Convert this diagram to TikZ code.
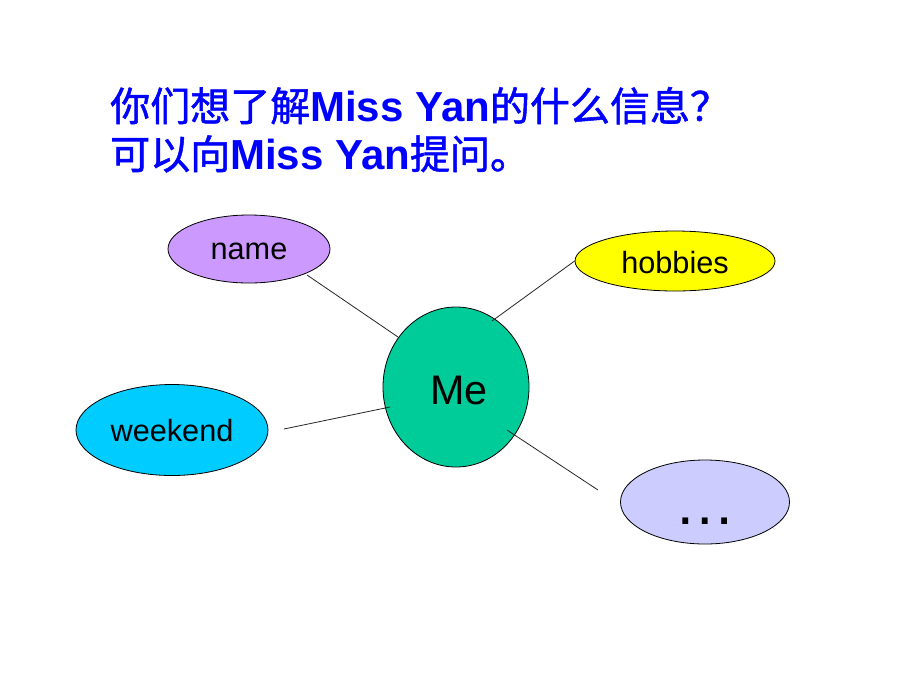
\documentclass[tikz,border=0pt]{standalone}
\usepackage{fontspec}
\setmainfont{Liberation Sans}
\newfontfamily\cjk[FakeBold=1.3]{Noto Sans CJK SC}
\newfontfamily\latb{Liberation Sans Bold}
\usetikzlibrary{shapes.geometric}
\definecolor{namec}{HTML}{CC99FF}
\definecolor{hobc}{HTML}{FFFF00}
\definecolor{mec}{HTML}{00CC99}
\definecolor{weekc}{HTML}{00CCFF}
\definecolor{dotc}{HTML}{CCCCFF}
\definecolor{titlec}{HTML}{0000FF}
\tikzset{
  bubble/.style={ellipse, draw=black, line width=0.6pt, inner sep=0pt},
  label/.style={font=\fontsize{23}{26}\selectfont, text=black},
  link/.style={draw=black!85, line width=0.6pt},
  title/.style={anchor=base west, inner sep=0pt, text=titlec, font=\fontsize{30}{36}\selectfont}
}
\begin{document}
\begin{tikzpicture}[x=0.75pt,y=-0.75pt]
\useasboundingbox (0,0) rectangle (920,690);
\fill[white] (0,0) rectangle (920,690);
% title
\node[title] (t1) at (110,121) {{\cjk 你们想了解}{\latb\fontsize{31.5}{36}\selectfont Miss Yan}{\cjk 的什么信息？}};
\node[title] (t2) at (110,169) {{\cjk 可以向}{\latb\fontsize{31.5}{36}\selectfont Miss Yan}{\cjk 提问。}};
% bubbles
\node[bubble, fill=namec, minimum width=121.5pt, minimum height=51pt] (name) at (249,249) {};
\node[label] at (249,251) {name};
\node[bubble, fill=hobc, minimum width=150pt, minimum height=45pt] (hob) at (675,261) {};
\node[label] at (675,263) {hobbies};
\node[bubble, fill=mec, minimum width=109.5pt, minimum height=120pt] (me) at (456,387) {};
\node[font=\fontsize{31}{34}\selectfont] at (459,390) {Me};
\node[bubble, fill=weekc, minimum width=144pt, minimum height=68.25pt] (week) at (172,430) {};
\node[label] at (172,431) {weekend};
\node[bubble, fill=dotc, minimum width=126.75pt, minimum height=63pt] (dots) at (705,502) {};
\node[anchor=base, inner sep=0pt, font=\fontsize{46}{50}\selectfont] (dt) at (705,524) {…};
% connectors
\coordinate (n0) at (307,275);
\coordinate (n1) at (398,337);
\coordinate (h1) at (492,321);
\coordinate (w0) at (284,429);
\coordinate (w1) at (390,407);
\coordinate (d0) at (507,430);
\coordinate (d1) at (598,490);
\draw[link] (n0) -- (n1);
\draw[link] (hob.west) -- (h1);
\draw[link] (w0) -- (w1);
\draw[link] (d0) -- (d1);
\end{tikzpicture}
\end{document}
